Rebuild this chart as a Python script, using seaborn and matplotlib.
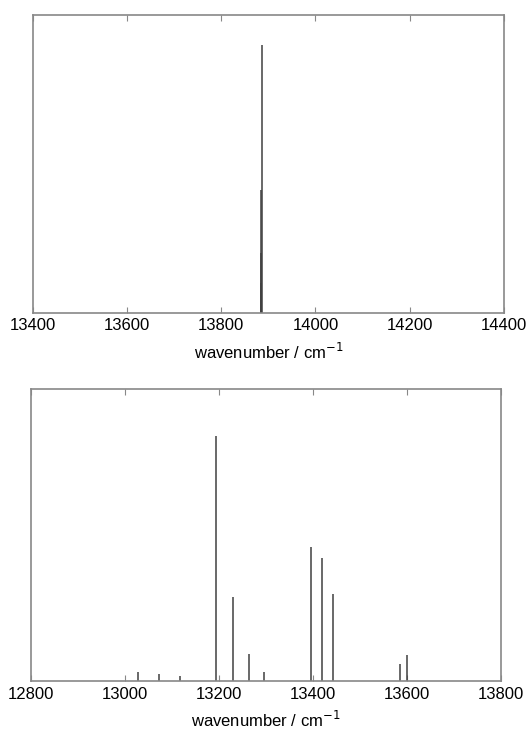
import numpy as np
import pandas as pd
import seaborn as sns
import matplotlib
matplotlib.use("Agg")
import matplotlib.pyplot as plt

# stick spectra, intensities relative to strongest line in each panel
top_wn = [13886, 13885, 13884.5, 13884]
top_int = [1.0, 0.458, 0.222, 0.11]

bot_wn = [13028, 13073, 13117, 13194, 13229, 13264, 13296,
          13396, 13420, 13442, 13586, 13600]
bot_int = [0.037, 0.030, 0.020, 1.0, 0.344, 0.110, 0.035,
           0.548, 0.501, 0.354, 0.071, 0.106]

top_ticks = [13400, 13600, 13800, 14000, 14200, 14400]
bot_ticks = [12800, 13000, 13200, 13400, 13600, 13800]

sns.set_theme(style="white")
plt.rcParams['font.family'] = ['Liberation Sans', 'DejaVu Sans']
plt.rcParams['text.color'] = 'black'
plt.rcParams['xtick.labelcolor'] = 'black'
plt.rcParams['axes.labelcolor'] = 'black'

fig = plt.figure(figsize=(5.32, 7.35), dpi=100)
ax1 = fig.add_axes([0.062, 0.5746, 0.885, 0.405])
ax2 = fig.add_axes([0.0583, 0.0735, 0.883, 0.397])

panels = [
    (ax1, pd.DataFrame({'wn': top_wn, 'I': top_int}), top_ticks, 1.112),
    (ax2, pd.DataFrame({'wn': bot_wn, 'I': bot_int}), bot_ticks, 1.192),
]

for ax, df, ticks, ymax in panels:
    ax.vlines(df['wn'], 0, df['I'], color='#404040', linewidth=1.1)
    ax.set_xlim(ticks[0], ticks[-1])
    ax.set_ylim(0, ymax)
    ax.set_xticks(ticks)
    ax.set_xticklabels([str(t) for t in ticks], fontsize=12)
    ax.set_yticks([])
    ax.tick_params(axis='x', direction='in', length=4, width=0.8,
                   color='#888888', top=True, bottom=True, pad=4)
    for s in ax.spines.values():
        s.set_color('#888888')
        s.set_linewidth(1.2)
    ax.set_xlabel('wavenumber / cm$^{-1}$', fontsize=12, labelpad=6)

fig.savefig('out.png', dpi=100)
